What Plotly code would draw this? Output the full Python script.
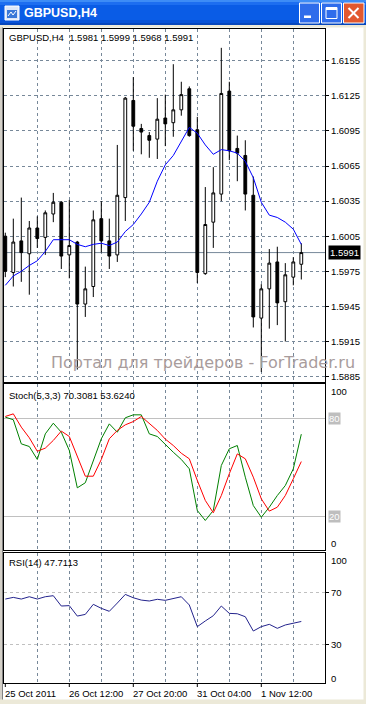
import plotly.graph_objects as go

W, H = 366, 704

# ---------------- data ----------------
bar_times = [
    "25 Oct 04:00", "25 Oct 08:00", "25 Oct 12:00", "25 Oct 16:00", "25 Oct 20:00",
    "26 Oct 00:00", "26 Oct 04:00", "26 Oct 08:00", "26 Oct 12:00", "26 Oct 16:00",
    "26 Oct 20:00", "27 Oct 00:00", "27 Oct 04:00", "27 Oct 08:00", "27 Oct 12:00",
    "27 Oct 16:00", "27 Oct 20:00", "28 Oct 00:00", "28 Oct 04:00", "28 Oct 08:00",
    "28 Oct 12:00", "28 Oct 16:00", "28 Oct 20:00", "31 Oct 00:00", "31 Oct 04:00",
    "31 Oct 08:00", "31 Oct 12:00", "31 Oct 16:00", "31 Oct 20:00", "1 Nov 00:00",
    "1 Nov 04:00", "1 Nov 08:00", "1 Nov 12:00", "1 Nov 16:00", "1 Nov 20:00",
    "2 Nov 00:00", "2 Nov 04:00", "2 Nov 08:00",
]
opens = [1.6005, 1.5974, 1.6001, 1.5990, 1.6012, 1.6004, 1.6024, 1.6034, 1.5989, 1.6000,
         1.5947, 1.5962, 1.6020, 1.6001, 1.5989, 1.6038, 1.6121, 1.6097, 1.6091, 1.6088,
         1.6106, 1.6102, 1.6113, 1.6131, 1.6096, 1.5973, 1.6017, 1.6041, 1.6129, 1.6080,
         1.6074, 1.6040, 1.5935, 1.5960, 1.5983, 1.5949, 1.5970, 1.5981]
highs = [1.6008, 1.6020, 1.6038, 1.6018, 1.6022, 1.6027, 1.6042, 1.6035, 1.6036, 1.6001,
         1.5979, 1.6027, 1.6035, 1.6020, 1.6083, 1.6124, 1.6141, 1.6101, 1.6094, 1.6123,
         1.6126, 1.6152, 1.6137, 1.6133, 1.6107, 1.6047, 1.6064, 1.6166, 1.6137, 1.6091,
         1.6087, 1.6056, 1.5964, 1.5994, 1.5996, 1.5982, 1.5987, 1.5999]
lows = [1.5970, 1.5962, 1.5966, 1.5955, 1.5995, 1.5989, 1.6017, 1.5977, 1.5969, 1.5891,
        1.5936, 1.5953, 1.5991, 1.5977, 1.5983, 1.6018, 1.6078, 1.6075, 1.6072, 1.6071,
        1.6082, 1.6090, 1.6108, 1.6090, 1.5965, 1.5972, 1.5995, 1.6035, 1.6070, 1.6052,
        1.6027, 1.5927, 1.5889, 1.5926, 1.5929, 1.5915, 1.5963, 1.5968]
closes = [1.5975, 1.6000, 1.5991, 1.6012, 1.6003, 1.6025, 1.6034, 1.5988, 1.5997, 1.5947,
          1.5960, 1.6019, 1.6001, 1.5988, 1.6040, 1.6123, 1.6099, 1.6094, 1.6087, 1.6105,
          1.6101, 1.6113, 1.6126, 1.6091, 1.5974, 1.6015, 1.6042, 1.6127, 1.6078, 1.6076,
          1.6041, 1.5936, 1.5960, 1.5982, 1.5948, 1.5972, 1.5983, 1.5991]
ma_line = [1.5963, 1.5971, 1.5975, 1.5980, 1.5984, 1.5992, 1.6002, 1.6002, 1.6002, 1.5998,
           1.5996, 1.5998, 1.5999, 1.5997, 1.6000, 1.6009, 1.6015, 1.6024, 1.6034, 1.6052,
           1.6066, 1.6074, 1.6086, 1.6098, 1.6093, 1.6083, 1.6075, 1.6079, 1.6078, 1.6076,
           1.6069, 1.6055, 1.6034, 1.6023, 1.6021, 1.6017, 1.6011, 1.5998]
stoch_main = [80.7, 79.1, 64.4, 62.8, 54.9, 70.5, 77.0, 71.5, 60.4, 37.6,
              40.7, 54.3, 67.5, 76.6, 71.5, 80.3, 82.1, 82.1, 70.5, 68.9,
              64.0, 59.3, 54.9, 49.2, 23.8, 17.7, 23.8, 51.2, 61.4, 63.4,
              44.1, 26.8, 19.7, 25.8, 32.9, 39.0, 49.2, 70.3081]
stoch_signal = [81.1, 82.7, 74.6, 68.1, 59.9, 61.8, 66.5, 72.2, 68.9, 56.7,
                44.7, 44.7, 54.9, 67.5, 72.6, 76.0, 78.0, 81.1, 77.0, 72.6,
                67.3, 63.4, 58.7, 55.3, 42.1, 29.9, 22.4, 32.9, 46.2, 58.3,
                55.3, 44.1, 30.9, 23.4, 25.8, 32.9, 43.1, 53.6240]
rsi_vals = [65.1, 66.4, 65.1, 66.9, 65.1, 66.9, 67.7, 59.7, 60.0, 51.9,
            53.2, 61.0, 57.9, 55.6, 62.0, 68.7, 66.1, 64.3, 63.6, 64.9,
            64.1, 65.6, 66.9, 60.5, 43.7, 48.1, 52.2, 59.7, 54.0, 53.7,
            51.4, 40.3, 43.7, 45.5, 42.4, 45.0, 46.3, 47.7113]
price_levels = [1.6155, 1.6125, 1.6095, 1.6065, 1.6035, 1.6005, 1.5975, 1.5945, 1.5915, 1.5885]
stoch_levels = [80, 20]
rsi_levels = [70, 30]
date_labels = ["25 Oct 2011", "26 Oct 12:00", "27 Oct 20:00", "31 Oct 04:00", "1 Nov 12:00"]
date_label_idx = [0, 8, 16, 24, 32]
grid_idx = [4, 8, 12, 16, 20, 24, 28, 32, 36]

# ---------------- geometry / style ----------------
FONT = "Liberation Sans"
FS = 9.5
GRID = "#778899"
LEVEL = "#C0C0C0"


def fx(p):
    return p / W


def fy(p):
    return 1 - p / H


X_L, X_R = 4, 325
MAIN_T, MAIN_B = 29, 381.5
STO_T, STO_B = 384, 550
RSI_T, RSI_B = 552.5, 683
K0_PX, BAR_PX = 5.3, 8.0
x_range = [(X_L - K0_PX) / BAR_PX, (X_R - K0_PX) / BAR_PX]

# price scale: 0.003 per 35.1 px, 1.6155 at y=60.7
P_REF, Y_REF, P_PER_PX = 1.6155, 60.7, 0.003 / 35.1
main_range = [P_REF - (MAIN_B - Y_REF) * P_PER_PX, P_REF + (Y_REF - MAIN_T) * P_PER_PX]
sto_range = [-0.3, 100.9]
rsi_range = [0, 101.2]

idx = list(range(len(bar_times)))

fig = go.Figure()
fig.add_trace(go.Candlestick(
    x=idx, open=opens, high=highs, low=lows, close=closes, text=bar_times,
    increasing=dict(fillcolor="white", line=dict(color="black", width=1)),
    decreasing=dict(fillcolor="black", line=dict(color="black", width=1)),
    whiskerwidth=0, hoverinfo="skip", showlegend=False, xaxis="x", yaxis="y"))
fig.add_trace(go.Scatter(x=idx, y=ma_line, mode="lines", line=dict(color="#0000FF", width=1),
                         hoverinfo="skip", showlegend=False, xaxis="x", yaxis="y"))
fig.add_trace(go.Scatter(x=idx, y=stoch_main, mode="lines", line=dict(color="#008000", width=1),
                         hoverinfo="skip", showlegend=False, xaxis="x2", yaxis="y2"))
fig.add_trace(go.Scatter(x=idx, y=stoch_signal, mode="lines", line=dict(color="#FF0000", width=1),
                         hoverinfo="skip", showlegend=False, xaxis="x2", yaxis="y2"))
fig.add_trace(go.Scatter(x=idx, y=rsi_vals, mode="lines", line=dict(color="#23238C", width=1),
                         hoverinfo="skip", showlegend=False, xaxis="x3", yaxis="y3"))

axis_base = dict(showline=True, linecolor="black", linewidth=1, mirror=True,
                 zeroline=False, fixedrange=True)
xgrid = dict(tickmode="array", tickvals=grid_idx, showticklabels=False, ticks="",
             showgrid=True, gridcolor=GRID, griddash="3px,3px", gridwidth=1,
             range=x_range, domain=[fx(X_L), fx(X_R)])
tickfont = dict(family=FONT, size=FS, color="black")

fig.update_layout(
    width=W, height=H, autosize=False,
    margin=dict(l=0, r=0, t=0, b=0, pad=0),
    paper_bgcolor="white", plot_bgcolor="white",
    boxgap=0.5,
    showlegend=False,
    xaxis=dict(**axis_base, **xgrid, anchor="y", rangeslider=dict(visible=False)),
    xaxis2=dict(**axis_base, **xgrid, anchor="y2", matches="x"),
    xaxis3=dict(**axis_base, **xgrid, anchor="y3", matches="x"),
    yaxis=dict(**axis_base, domain=[fy(MAIN_B), fy(MAIN_T)], range=main_range, anchor="x",
               side="right", tickmode="array", tickvals=price_levels, tickformat=".4f",
               ticks="outside", ticklen=3, tickcolor="black", tickwidth=1,
               showgrid=True, gridcolor=GRID, griddash="3px,3px", tickfont=tickfont),
    yaxis2=dict(**axis_base, domain=[fy(STO_B), fy(STO_T)], range=sto_range, anchor="x2",
                side="right", tickmode="array", tickvals=stoch_levels, showticklabels=False,
                ticks="", showgrid=True, gridcolor=LEVEL, gridwidth=1),
    yaxis3=dict(**axis_base, domain=[fy(RSI_B), fy(RSI_T)], range=rsi_range, anchor="x3",
                side="right", tickmode="array", tickvals=rsi_levels, ticks="outside", ticklen=3,
                tickcolor="black", showgrid=True, gridcolor=LEVEL, griddash="3px,3px",
                tickfont=tickfont),
)

ann = []


def text_ann(txt, x, y, xref="paper", yref="paper", xanchor="left", yanchor="middle",
             color="black", size=FS, family=FONT, **kw):
    ann.append(dict(text=txt, x=x, y=y, xref=xref, yref=yref, xanchor=xanchor, yanchor=yanchor,
                    showarrow=False, font=dict(family=family, size=size, color=color), **kw))


# panel headers
text_ann(f"GBPUSD,H4\u00a0\u00a0{opens[-1]:.4f} {highs[-1]:.4f} {lows[-1]:.4f} {closes[-1]:.4f}",
         fx(7), fy(37.5))
text_ann(f"Stoch(5,3,3) {stoch_main[-1]:.4f} {stoch_signal[-1]:.4f}", fx(7), fy(395))
text_ann(f"RSI(14) {rsi_vals[-1]:.4f}", fx(7), fy(562))

# current price tag
text_ann(f"{closes[-1]:.4f}", fx(328), closes[-1], yref="y", color="white",
         bgcolor="black", borderpad=1)

# stochastic scale labels
text_ann("100", fx(329), fy(392))
text_ann("0", fx(329), fy(543))
for lv in stoch_levels:
    text_ann(str(lv), fx(327.5), lv, yref="y2", color="white", bgcolor="#BEBEBE", borderpad=0)
# rsi scale extremes
text_ann("100", fx(329), fy(560))
text_ann("0", fx(329), fy(678))

# time labels
for i, lab in zip(date_label_idx, date_labels):
    text_ann(lab, i, fy(693.5), xref="x3", xshift=-2)

# watermark
text_ann("Портал для трейдеров - ForTrader.ru", fx(203), fy(362), xanchor="center",
         color="#A89C9C", size=16, family="DejaVu Sans")

# window title
text_ann("GBPUSD,H4", fx(22), fy(13), color="white", size=12.5,
         family="Liberation Sans", )
ann[-1]["font"]["weight"] = "bold"
ann[-1]["text"] = "<b>GBPUSD,H4</b>"

shapes = []


def rect(x0, y0, x1, y1, fill, line=None, lw=0, layer="above"):
    shapes.append(dict(type="rect", xref="paper", yref="paper", x0=fx(x0), x1=fx(x1),
                       y0=fy(y1), y1=fy(y0), fillcolor=fill,
                       line=dict(color=line or fill, width=lw), layer=layer))


def pline(x0, y0, x1, y1, color, w=1):
    shapes.append(dict(type="line", xref="paper", yref="paper", x0=fx(x0), x1=fx(x1),
                       y0=fy(y0), y1=fy(y1), line=dict(color=color, width=w)))


# window frame
rect(0, 26, 2, 704, "#D4D0C8")
pline(2.5, 26, 2.5, 700, "#808080")
rect(363.5, 26, 366, 704, "#ECE9D8")
rect(0, 699.5, 366, 704, "#ECE9D8")
rect(0, 25, 366, 27.5, "#ECE9D8")

# title bar (approximate XP gradient)
rect(0, 0, 366, 25, "#0A5CE6")
rect(0, 0, 366, 2, "#3D8CF6")
rect(0, 2, 366, 5, "#1D6EF0")
rect(0, 20, 366, 23, "#0853D8")
rect(0, 23, 366, 25, "#0646BC")

# title icon
rect(5, 6, 19, 20, "#DCE6F8", line="#FFFFFF", lw=1)
rect(7, 10, 17, 18, "#3A78D8")
pline(8, 16, 11, 12, "white", 1)
pline(11, 12, 13, 15, "white", 1)
pline(13, 15, 16, 11, "white", 1)

# buttons
rect(299.5, 3, 319.5, 23, "#2F6CEB", line="white", lw=1)
rect(304, 15.5, 311, 18, "white")
rect(321.5, 3, 341.5, 23, "#2F6CEB", line="white", lw=1)
rect(326, 7.5, 337, 18.5, "rgba(0,0,0,0)", line="white", lw=1)
rect(326, 7.5, 337, 10, "white")
rect(343.5, 3, 364, 23, "#E2582F", line="white", lw=1)
pline(348.5, 8, 358.5, 18, "white", 2)
pline(358.5, 8, 348.5, 18, "white", 2)

# current bid line
shapes.append(dict(type="line", xref="paper", yref="y", x0=fx(X_L), x1=fx(X_R),
                   y0=closes[-1], y1=closes[-1], line=dict(color=GRID, width=1), layer="below"))

# time-axis tick marks
for i in date_label_idx:
    shapes.append(dict(type="line", xref="x3", yref="paper", x0=i, x1=i,
                       y0=fy(RSI_B), y1=fy(RSI_B + 4), line=dict(color="black", width=1)))

fig.update_layout(annotations=ann, shapes=shapes)

fig.write_html("out.html", config=dict(displayModeBar=False, staticPlot=True),
               post_script="document.body.style.margin='0';document.body.style.overflow='hidden';")
